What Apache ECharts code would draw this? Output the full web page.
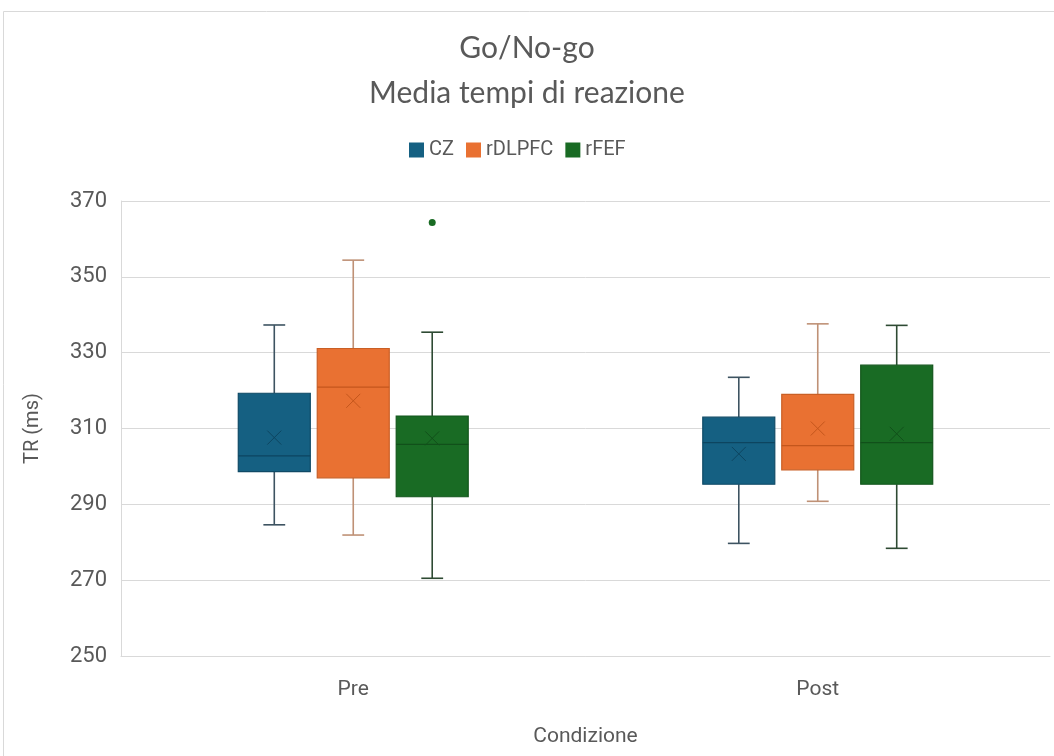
<!DOCTYPE html>
<html>
<head>
<meta charset="utf-8">
<script src="https://cdn.jsdelivr.net/npm/echarts@6/dist/echarts.min.js"></script>
<style>
  html, body { margin: 0; padding: 0; background: #fff; }
  #chart { width: 1054px; height: 756px; }
</style>
</head>
<body>
<div id="chart"></div>
<script>
const categories = ['Pre', 'Post']
const seriesNames = ['CZ', 'rDLPFC', 'rFEF']
const yTicks = [250, 270, 290, 310, 330, 350, 370]

// [min, Q1, mediana, Q3, max] per Pre / Post
const czBox = [[284.6, 298.6, 302.8, 319.3, 337.3], [279.7, 295.3, 306.3, 313.0, 323.5]]
const czMean = [307.6, 303.3]
const dlpfcBox = [[281.9, 297.0, 320.9, 331.1, 354.4], [290.8, 299.1, 305.5, 319.0, 337.6]]
const dlpfcMean = [317.3, 310.0]
const fefBox = [[270.5, 292.0, 305.8, 313.3, 335.4], [278.4, 295.3, 306.3, 326.7, 337.2]]
const fefMean = [307.4, 308.6]
// [categoria, valore]
const fefOutliers = [[0, 364.3]]

const styles = [
  { fill: '#156082', border: '#0f4a66', whisker: '#3d5361', mark: '#0d4560' },
  { fill: '#e97132', border: '#c95f25', whisker: '#bf9176', mark: '#c4561c' },
  { fill: '#196b24', border: '#13561c', whisker: '#2e4a33', mark: '#11501a' }
]
const offsets = [-0.17, 0, 0.17]
const BOX = 0.155
const CAP = 0.047

function rows(box, mean) {
  return box.map((b, i) => [i].concat(b, [mean[i]]))
}

function boxRender(idx) {
  const st = styles[idx]
  return function (params, api) {
    const cat = api.value(0)
    const band = api.size([1, 0])[0]
    const cx = api.coord([cat, 300])[0] + offsets[idx] * band
    const y = k => api.coord([cat, api.value(k)])[1]
    const half = band * BOX / 2
    const cap = band * CAP / 2
    const xs = 7
    const yMin = y(1), yQ1 = y(2), yMed = y(3), yQ3 = y(4), yMax = y(5), yMean = y(6)
    const wl = { stroke: st.whisker, lineWidth: 1.6 }
    return {
      type: 'group',
      children: [
        { type: 'line', shape: { x1: cx, y1: yMax, x2: cx, y2: yQ3 }, style: wl },
        { type: 'line', shape: { x1: cx, y1: yQ1, x2: cx, y2: yMin }, style: wl },
        { type: 'line', shape: { x1: cx - cap, y1: yMax, x2: cx + cap, y2: yMax }, style: wl },
        { type: 'line', shape: { x1: cx - cap, y1: yMin, x2: cx + cap, y2: yMin }, style: wl },
        {
          type: 'rect',
          shape: { x: cx - half, y: yQ3, width: half * 2, height: yQ1 - yQ3 },
          style: { fill: st.fill, stroke: st.border, lineWidth: 1.2 }
        },
        { type: 'line', shape: { x1: cx - half, y1: yMed, x2: cx + half, y2: yMed }, style: { stroke: st.mark, lineWidth: 1.3 } },
        { type: 'line', shape: { x1: cx - xs, y1: yMean - xs, x2: cx + xs, y2: yMean + xs }, style: { stroke: st.mark, lineWidth: 1 } },
        { type: 'line', shape: { x1: cx - xs, y1: yMean + xs, x2: cx + xs, y2: yMean - xs }, style: { stroke: st.mark, lineWidth: 1 } }
      ]
    }
  }
}

function outlierRender(idx) {
  const st = styles[idx]
  return function (params, api) {
    const cat = api.value(0)
    const band = api.size([1, 0])[0]
    const p = api.coord([cat, api.value(1)])
    return {
      type: 'circle',
      shape: { cx: p[0] + offsets[idx] * band, cy: p[1], r: 3.5 },
      style: { fill: st.fill }
    }
  }
}

const boxes = [rows(czBox, czMean), rows(dlpfcBox, dlpfcMean), rows(fefBox, fefMean)]

const series = boxes.map((data, i) => ({
  name: seriesNames[i],
  type: 'custom',
  renderItem: boxRender(i),
  itemStyle: { color: styles[i].fill },
  encode: { x: 0, y: [1, 2, 3, 4, 5, 6] },
  data: data,
  z: 3
}))
series.push({
  name: 'rFEF',
  type: 'custom',
  renderItem: outlierRender(2),
  itemStyle: { color: styles[2].fill },
  encode: { x: 0, y: 1 },
  data: fefOutliers,
  z: 4
})

const chart = echarts.init(document.getElementById('chart'), null, { renderer: 'canvas' })
chart.setOption({
  animation: false,
  backgroundColor: '#fff',
  graphic: [{
    type: 'rect',
    shape: { x: 3.5, y: 11.5, width: 1100, height: 800 },
    style: { fill: 'none', stroke: '#d9d9d9', lineWidth: 1 },
    silent: true
  }],
  title: {
    text: 'Go/No-go\nMedia tempi di reazione',
    left: 'center',
    top: 21,
    textStyle: {
      fontFamily: 'Lato',
      fontWeight: 'normal',
      fontSize: 30,
      lineHeight: 45,
      color: '#595959'
    }
  },
  legend: {
    data: seriesNames,
    top: 135,
    left: 404,
    icon: 'rect',
    itemWidth: 15,
    itemHeight: 15,
    itemGap: 12,
    textStyle: { fontFamily: 'Roboto', fontSize: 20, color: '#595959' }
  },
  grid: { left: 121, right: 4, top: 201, bottom: 100 },
  xAxis: {
    type: 'category',
    data: categories,
    boundaryGap: true,
    axisLine: { show: true, lineStyle: { color: '#d9d9d9' } },
    axisTick: { show: false },
    axisLabel: { fontFamily: 'Roboto', fontSize: 21, color: '#595959', margin: 23 },
    name: 'Condizione',
    nameLocation: 'middle',
    nameGap: 70,
    nameTextStyle: { fontFamily: 'Roboto', fontSize: 21, color: '#595959' }
  },
  yAxis: {
    type: 'value',
    min: yTicks[0],
    max: yTicks[yTicks.length - 1],
    interval: 20,
    axisLine: { show: true, lineStyle: { color: '#d9d9d9' } },
    axisTick: { show: false },
    splitLine: { lineStyle: { color: '#d9d9d9', width: 1 } },
    axisLabel: { fontFamily: 'Roboto', fontSize: 22, color: '#595959', margin: 14 },
    name: 'TR (ms)',
    nameLocation: 'middle',
    nameGap: 78,
    nameRotate: 90,
    nameTextStyle: { fontFamily: 'Roboto', fontSize: 20, color: '#595959' }
  },
  series: series
})
</script>
</body>
</html>
